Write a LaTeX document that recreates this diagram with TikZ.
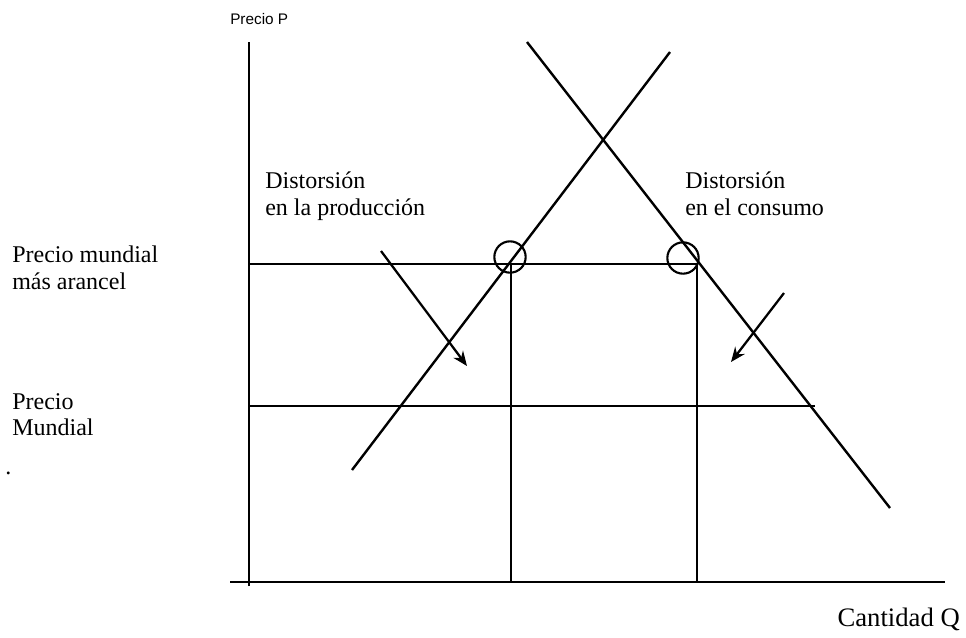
\documentclass[tikz,border=0pt]{standalone}
\usepackage{fontspec}
\setmainfont{Liberation Serif}
\newfontfamily\labsans{Liberation Sans}
\usetikzlibrary{arrows.meta,positioning}
\tikzset{
  axis/.style={draw=black, line width=2.1pt},
  curve/.style={draw=black, line width=1.8pt},
  level/.style={draw=black, line width=1.7pt},
  ring/.style={circle, draw=black, line width=1.6pt, minimum size=23.5pt, inner sep=0pt},
  lab/.style={align=left, anchor=north west, inner sep=0pt, font=\fontsize{18}{20}\selectfont},
  ar/.style={-{Stealth[length=11pt,width=9pt]}, draw=black, line width=1.7pt},
}
\begin{document}
\begin{tikzpicture}[x=0.75pt,y=-0.75pt]
\useasboundingbox (0,0) rectangle (966,637);

% ---------- axes ----------
\coordinate (o) at (249,582);
\coordinate (ytop) at (249,42);
\coordinate (xend) at (945,582);
\draw[axis] (249,586) -- (ytop);
\draw[axis] (230,582) -- (xend);
\node[anchor=south west,inner sep=0pt,font=\labsans\fontsize{11.5}{13}\selectfont] (py) at (230,25) {Precio P};
\node[lab,anchor=north east,font=\fontsize{20}{22}\selectfont] (qx) at (960,608) {Cantidad Q};

% ---------- supply and demand ----------
\coordinate (s0) at (352,470); \coordinate (s1) at (670,52);
\coordinate (d0) at (527,42);  \coordinate (d1) at (890,508);
\draw[curve] (s0) -- (s1);
\draw[curve] (d0) -- (d1);

% ---------- price levels ----------
\coordinate (pt) at (249,264); \coordinate (pw) at (249,406);
\coordinate (qs) at (511,264); \coordinate (qd) at (697,264);
\draw[level] (pt) -- (qd);
\draw[level] (pw) -- (815,406);
\draw[level] (qs) -- (qs |- o);
\draw[level] (qd) -- (qd |- o);
\node[ring] (cs) at (510,257) {};
\node[ring] (cd) at (683,258) {};

% ---------- labels ----------
\node[lab] (lprod) at (265,172) {Distorsión\\en la producción};
\node[lab] (lcons) at (685,172) {Distorsión\\en el consumo};
\node[lab] (lpt) at (12,246) {Precio mundial\\más arancel};
\node[lab] (lpw) at (12,393) {Precio\\Mundial};
\node[lab] (dot) at (5,472) {.};

% ---------- arrows ----------
\coordinate (a0) at (381,251); \coordinate (a1) at (467,366);
\coordinate (b0) at (784,293); \coordinate (b1) at (731,362);
\draw[ar] (a0) -- (a1);
\draw[ar] (b0) -- (b1);
\end{tikzpicture}
\end{document}
